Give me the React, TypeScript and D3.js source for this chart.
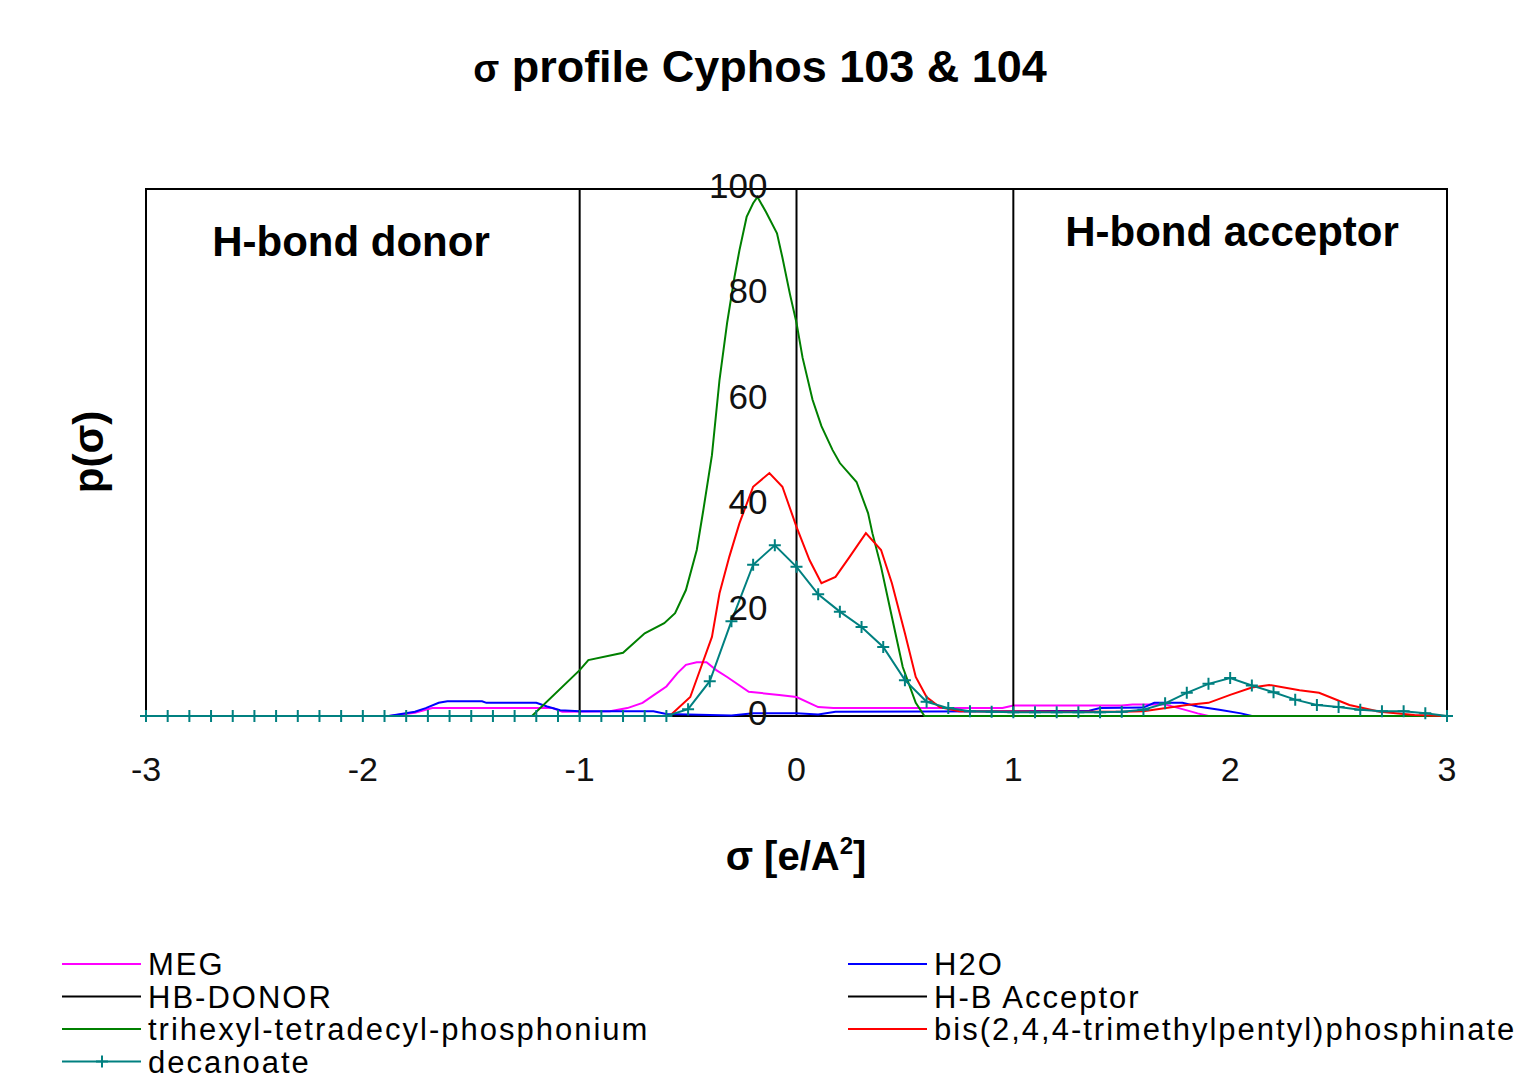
import * as d3 from 'd3'

// sigma [e/A^2] (x 100) , p(sigma) pairs
const meg: [number, number][] = [
  [-3, 0], [-1.88, 0], [-1.76, 0.6], [-1.68, 1.5], [-1.125, 1.5], [-1.08, 0.8], [-0.86, 0.9],
  [-0.78, 1.5], [-0.71, 2.5], [-0.66, 3.9], [-0.6, 5.6], [-0.55, 8.1], [-0.51, 9.7], [-0.46, 10.2],
  [-0.415, 10.2], [-0.37, 8.7], [-0.32, 7.4], [-0.22, 4.6], [-0.08, 4.0], [0, 3.6], [0.1, 1.7],
  [0.17, 1.5], [0.95, 1.5], [1.0, 2.0], [1.5, 2.0], [1.55, 2.2], [1.7, 2.2], [1.78, 1.3],
  [1.85, 0.5], [1.9, 0], [3, 0],
]

const h2o: [number, number][] = [
  [-3, 0], [-1.88, 0], [-1.76, 0.8], [-1.71, 1.5], [-1.65, 2.5], [-1.61, 2.8], [-1.45, 2.8],
  [-1.43, 2.5], [-1.2, 2.5], [-1.15, 1.8], [-1.09, 1.1], [-1.0, 0.9], [-0.66, 0.9], [-0.6, 0.4],
  [-0.5, 0.3], [-0.3, 0.1], [-0.2, 0.5], [0, 0.5], [0.1, 0.3], [0.18, 0.8], [1.0, 0.9],
  [1.35, 1.0], [1.4, 1.5], [1.6, 1.6], [1.65, 2.5], [1.78, 2.5], [1.85, 1.8], [1.95, 1.2],
  [2.05, 0.5], [2.1, 0], [3, 0],
]

const hbDonor: [number, number][] = [[-1, 0], [-1, 100]]
const hbAcceptor: [number, number][] = [[1, 0], [1, 100]]

const phosphonium: [number, number][] = [
  [-3, 0], [-1.22, 0], [-1.0, 8.7], [-0.96, 10.6], [-0.8, 12], [-0.7, 15.7], [-0.61, 17.6],
  [-0.56, 19.5], [-0.51, 23.9], [-0.46, 31.5], [-0.43, 39], [-0.39, 49.5], [-0.355, 63.8],
  [-0.32, 74.6], [-0.286, 83.3], [-0.263, 88.4], [-0.23, 94.7], [-0.2, 97.3], [-0.18, 98.5],
  [-0.14, 95.6], [-0.09, 91.6], [-0.065, 87], [-0.03, 80], [0, 74.6], [0.028, 68], [0.074, 60],
  [0.115, 55], [0.166, 50.5], [0.2, 48], [0.277, 44.4], [0.33, 38.5], [0.35, 34.7], [0.39, 28.3],
  [0.44, 18.8], [0.49, 9.3], [0.55, 2.5], [0.59, 0], [3, 0],
]

const phosphinate: [number, number][] = [
  [-3, 0], [-0.585, 0], [-0.49, 3.6], [-0.44, 9.3], [-0.39, 15], [-0.355, 23.3], [-0.31, 30.2],
  [-0.263, 36.6], [-0.2, 43.5], [-0.125, 46.1], [-0.065, 43.5], [0, 35.9], [0.06, 29.6],
  [0.115, 25.2], [0.18, 26.4], [0.245, 30.2], [0.32, 34.7], [0.39, 31.5], [0.44, 25.2],
  [0.5, 15.7], [0.55, 7.4], [0.6, 3.6], [0.66, 1.7], [0.75, 0.9], [1.5, 0.8], [1.6, 0.9],
  [1.8, 2.1], [1.9, 2.5], [2.0, 4.0], [2.1, 5.4], [2.18, 5.9], [2.32, 4.9], [2.41, 4.4],
  [2.55, 2.1], [2.69, 0.8], [2.85, 0.2], [3, 0],
]

// decanoate is tabulated every 0.1 from -3 to 3
const decanoateSigma = d3.range(-30, 31).map(i => i / 10)
const decanoateP = [
  0, 0, 0, 0, 0, 0, 0, 0, 0, 0, 0, 0, 0, 0, 0, 0, 0, 0, 0, 0, 0, 0, 0, 0, 0,
  1.3, 6.6, 18, 28.7, 32.4,
  28.3, 23.1, 19.8, 16.9, 13.1, 6.8, 2.7, 1.5, 0.9, 0.8,
  0.7, 0.7, 0.7, 0.7, 0.7, 0.8, 1.2, 2.4, 4.4, 6.1,
  7.2, 5.8, 4.5, 3.1, 2.1, 1.7, 1.2, 0.9, 0.9, 0.5, 0,
]
const decanoate: [number, number][] = decanoateSigma.map((s, i) => [s, decanoateP[i]])

const xTicks = [-3, -2, -1, 0, 1, 2, 3]
const yTicks = [0, 20, 40, 60, 80, 100]

const series = [
  { name: 'MEG', data: meg, color: '#ff00ff', marker: false },
  { name: 'H2O', data: h2o, color: '#0000ff', marker: false },
  { name: 'HB-DONOR', data: hbDonor, color: '#000000', marker: false },
  { name: 'H-B Acceptor', data: hbAcceptor, color: '#000000', marker: false },
  { name: 'trihexyl-tetradecyl-phosphonium', data: phosphonium, color: '#008000', marker: false },
  { name: 'bis(2,4,4-trimethylpentyl)phosphinate', data: phosphinate, color: '#ff0000', marker: false },
  { name: 'decanoate', data: decanoate, color: '#008080', marker: true },
]

// legend order as in the picture: two columns
const legendLeft = ['MEG', 'HB-DONOR', 'trihexyl-tetradecyl-phosphonium', 'decanoate']
const legendRight = ['H2O', 'H-B Acceptor', 'bis(2,4,4-trimethylpentyl)phosphinate']

const font = "'Liberation Sans', Arial, sans-serif"

function Plus({ cx, cy, color, r = 6 }: { cx: number; cy: number; color: string; r?: number }) {
  return (
    <path
      d={`M${cx - r},${cy}H${cx + r}M${cx},${cy - r}V${cy + r}`}
      stroke={color}
      strokeWidth={2}
    />
  )
}

export default function App() {
  const width = 1521
  const height = 1079

  const x = d3.scaleLinear().domain([-3, 3]).range([146, 1447])
  const y = d3.scaleLinear().domain([0, 100]).range([716, 189])

  const line = d3.line<[number, number]>()
    .x(d => x(d[0]))
    .y(d => y(d[1]))

  const legendRow = (name: string, i: number, x0: number) => {
    const s = series.find(d => d.name === name)!
    const yy = 964 + i * 32.5
    return (
      <g key={name}>
        <line x1={x0} x2={x0 + 79} y1={yy} y2={yy} stroke={s.color} strokeWidth={2} />
        {s.marker && <Plus cx={x0 + 40} cy={yy} color={s.color} />}
        <text
          x={x0 + 86} y={yy + 11} fontSize={31} letterSpacing={2}
          fontFamily={font} fill="#000"
        >
          {name}
        </text>
      </g>
    )
  }

  return (
    <svg
      width={width}
      height={height}
      style={{ position: 'absolute', left: 0, top: 0, background: '#fff' }}
    >
      <text x={760} y={82} textAnchor="middle" fontSize={45} fontWeight="bold" fontFamily={font}>
        <tspan fontSize={38}>σ</tspan> profile Cyphos 103 &amp; 104
      </text>

      {/* plot frame */}
      <rect
        x={x(-3)} y={y(100)} width={x(3) - x(-3)} height={y(0) - y(100)}
        fill="none" stroke="#000" strokeWidth={2}
      />
      {/* y axis sits at sigma = 0 */}
      <line x1={x(0)} x2={x(0)} y1={y(0)} y2={y(100)} stroke="#000" strokeWidth={2} />

      <text x={351} y={256} textAnchor="middle" fontSize={42} fontWeight="bold" fontFamily={font}>H-bond donor</text>
      <text x={1232} y={246} textAnchor="middle" fontSize={42} fontWeight="bold" fontFamily={font}>H-bond acceptor</text>

      {series.map(s => (
        <g key={s.name}>
          <path d={line(s.data)!} fill="none" stroke={s.color} strokeWidth={2} />
          {s.marker && s.data.map((d, i) => (
            <Plus key={i} cx={x(d[0])} cy={y(d[1])} color={s.color} />
          ))}
        </g>
      ))}

      {yTicks.map(t => (
        <text key={t} x={x(0) - 29} y={y(t) + 9} textAnchor="end" fontSize={35} fontFamily={font} fill="#111">
          {t}
        </text>
      ))}
      {xTicks.map(t => (
        <text key={t} x={x(t)} y={781} textAnchor="middle" fontSize={34} fontFamily={font} fill="#111">
          {t}
        </text>
      ))}

      <text x={796} y={870} textAnchor="middle" fontSize={40} fontWeight="bold" fontFamily={font}>
        σ [e/A<tspan dy={-16} fontSize={24}>2</tspan><tspan dy={16}>]</tspan>
      </text>
      <text
        transform="translate(103,452) rotate(-90)"
        textAnchor="middle" fontSize={42} fontWeight="bold" fontFamily={font}
      >
        p(σ)
      </text>

      {legendLeft.map((n, i) => legendRow(n, i, 62))}
      {legendRight.map((n, i) => legendRow(n, i, 848))}
    </svg>
  )
}
